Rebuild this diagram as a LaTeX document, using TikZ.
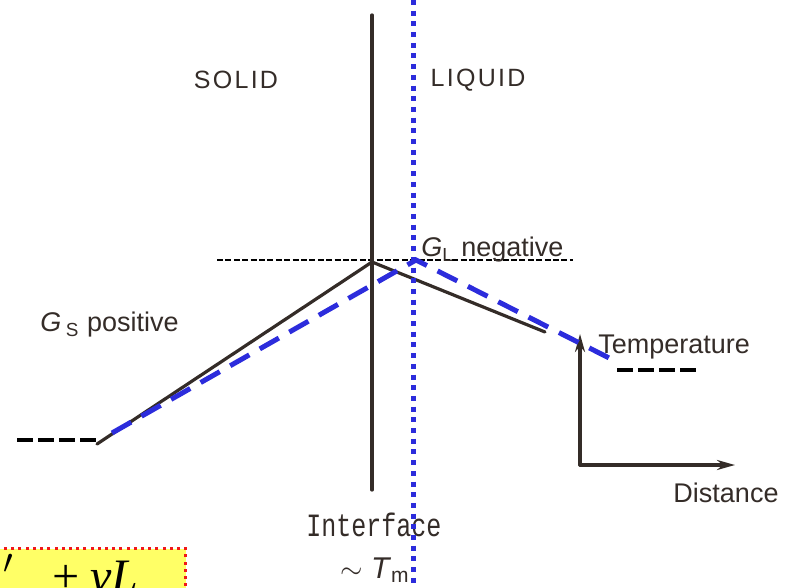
\documentclass[tikz,border=0pt]{standalone}
\usepackage{fontspec}
\setmainfont{Liberation Sans}
\setmonofont{Liberation Mono}
\newfontfamily\notefont{Liberation Serif}
\newfontfamily\spacedfont[LetterSpace=9]{Liberation Sans}
\usetikzlibrary{arrows.meta}
\definecolor{ink}{RGB}{52,44,40}
\definecolor{markblue}{RGB}{44,44,220}
\definecolor{noteyellow}{RGB}{255,255,102}
\definecolor{notered}{RGB}{240,24,24}
\begin{document}
\begin{tikzpicture}[x=0.5pt,y=-0.5pt,
  lbl/.style={text=ink,inner sep=0pt,font=\fontsize{13.5}{16}\selectfont},
  phase/.style={text=ink,inner sep=0pt,font=\spacedfont\fontsize{12.5}{15}\selectfont},
  profile/.style={ink,line width=1.6pt,line cap=round},
  overlay/.style={markblue,line width=2.5pt,dash pattern=on 11pt off 6pt},
  marker/.style={markblue,line width=2.5pt,dash pattern=on 2.5pt off 2.85pt},
  level/.style={black,line width=2pt,dash pattern=on 8pt off 2.5pt},
  melt/.style={black,line width=0.8pt,dash pattern=on 3pt off 1.2pt}]
\useasboundingbox (0,0) rectangle (786,588);
\node[fill=noteyellow,draw=notered,line width=1.5pt,dash pattern=on 1.5pt off 2.1pt,
  minimum width=200,minimum height=60,inner sep=0pt,anchor=north east] (note) at (187,547) {};
\node[anchor=base west,inner sep=0pt,font=\notefont\itshape\fontsize{24}{28}\selectfont] (flux) at (3,592)
  {$'$\hspace{18pt}+\,vL};
\coordinate (wall top) at (372,15);
\coordinate (wall foot) at (372,490);
\coordinate (peak) at (372,262);
\coordinate (solid end) at (97,444);
\coordinate (liquid end) at (545,332);
\coordinate (melt left) at (217,260);
\coordinate (melt right) at (573,260);
\draw[melt] (melt left) -- (melt right);
\draw[profile] (wall top) -- (wall foot);
\draw[profile] (solid end) -- (peak) -- (liquid end);
\coordinate (origin) at (580,465);
\coordinate (temp tip) at (580,334);
\coordinate (dist tip) at (735,465);
\draw[profile,-{Stealth[length=9pt,width=5pt]}] (origin) -- (temp tip);
\draw[profile,-{Stealth[length=9pt,width=5pt]}] (origin) -- (dist tip);
\node[phase] (solid) at (236,80) {SOLID};
\node[phase] (liquid) at (478,80) {LIQUID};
\node[lbl,anchor=west] (gl) at (421,250) {\textit{G}\textsubscript{L} negative};
\node[lbl,anchor=west] (gs) at (40,325) {\textit{G}\,\textsubscript{S} positive};
\node[lbl,anchor=west] (temp) at (598,347) {Temperature};
\node[lbl] (dist) at (726,493) {Distance};
\node[text=ink,inner sep=0pt,font=\ttfamily\fontsize{12.5}{14}\selectfont] (iface) at (374,525)
  {\scalebox{1}[1.3]{Interface}};
\node[lbl,font=\fontsize{15}{18}\selectfont] (tm) at (375,570) {$\sim$\ \textit{T}\textsubscript{m}};
\draw[level] (17,440) coordinate (s lo) -- (97,440) coordinate (s hi);
\draw[level] (617,370) coordinate (l lo) -- (697,370) coordinate (l hi);
\coordinate (blue start) at (112,433);
\coordinate (blue peak) at (416,260);
\coordinate (blue end) at (617,362);
\draw[overlay] (blue start) -- (blue peak) -- (blue end);
\coordinate (mark top) at (413,0);
\coordinate (mark foot) at (413,590);
\draw[marker] (mark top) -- (mark foot);
\end{tikzpicture}
\end{document}
